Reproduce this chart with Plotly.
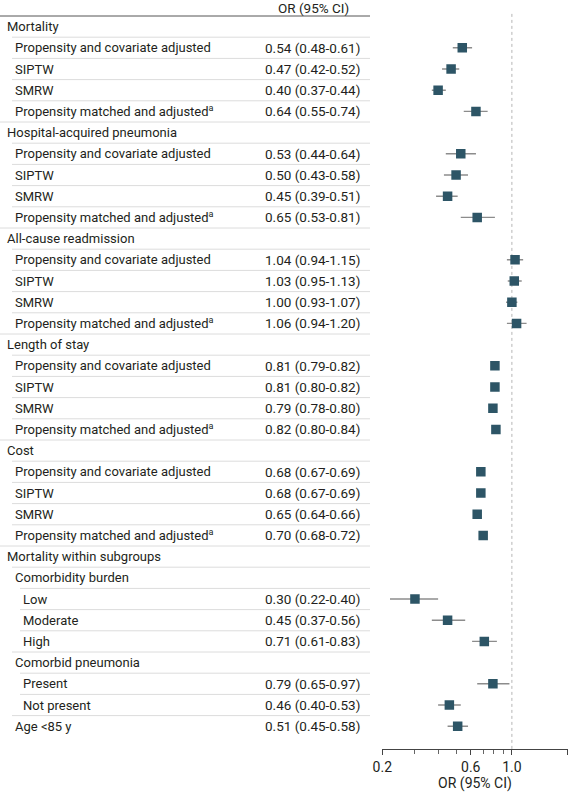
import math
import plotly.graph_objects as go

# ---------------- data ----------------
PMA = "Propensity matched and adjusted<sup>a</sup>"
row_labels = [
    "Mortality",
    "Propensity and covariate adjusted", "SIPTW", "SMRW", PMA,
    "Hospital-acquired pneumonia",
    "Propensity and covariate adjusted", "SIPTW", "SMRW", PMA,
    "All-cause readmission",
    "Propensity and covariate adjusted", "SIPTW", "SMRW", PMA,
    "Length of stay",
    "Propensity and covariate adjusted", "SIPTW", "SMRW", PMA,
    "Cost",
    "Propensity and covariate adjusted", "SIPTW", "SMRW", PMA,
    "Mortality within subgroups",
    "Comorbidity burden",
    "Low", "Moderate", "High",
    "Comorbid pneumonia",
    "Present", "Not present",
    "Age <85 y",
]
row_levels = [0, 1, 1, 1, 1,
              0, 1, 1, 1, 1,
              0, 1, 1, 1, 1,
              0, 1, 1, 1, 1,
              0, 1, 1, 1, 1,
              0, 1, 2, 2, 2, 1, 2, 2, 1]
or_vals = [None, 0.54, 0.47, 0.40, 0.64,
           None, 0.53, 0.50, 0.45, 0.65,
           None, 1.04, 1.03, 1.00, 1.06,
           None, 0.81, 0.81, 0.79, 0.82,
           None, 0.68, 0.68, 0.65, 0.70,
           None, None, 0.30, 0.45, 0.71, None, 0.79, 0.46, 0.51]
ci_low = [None, 0.48, 0.42, 0.37, 0.55,
          None, 0.44, 0.43, 0.39, 0.53,
          None, 0.94, 0.95, 0.93, 0.94,
          None, 0.79, 0.80, 0.78, 0.80,
          None, 0.67, 0.67, 0.64, 0.68,
          None, None, 0.22, 0.37, 0.61, None, 0.65, 0.40, 0.45]
ci_high = [None, 0.61, 0.52, 0.44, 0.74,
           None, 0.64, 0.58, 0.51, 0.81,
           None, 1.15, 1.13, 1.07, 1.20,
           None, 0.82, 0.82, 0.80, 0.84,
           None, 0.69, 0.69, 0.66, 0.72,
           None, None, 0.40, 0.56, 0.83, None, 0.97, 0.53, 0.58]
major_ticks = [0.2, 0.6, 1.0, 2.0]
major_tick_text = ["0.2", "0.6", "1.0", "2.0"]
minor_ticks = [0.3, 0.4, 0.5, 0.7, 0.8, 0.9]
header_text = "OR (95% CI)"
axis_title = "OR (95% CI)"

# ---------------- layout constants ----------------
W, H = 576, 793
FONT = "Roboto"
TXT = "#231f20"
MARK = "#2d5566"
n = len(row_labels)
row0_px, pitch = 26.6, 21.2
axis_px = 749
y_top = -row0_px / pitch
y_bot = (axis_px - row0_px) / pitch
indent_px = {0: 5, 1: 13, 2: 21}
line_px = {0: 0, 1: 12, 2: 20}
val_right_px = 362
table_right_px = 370

def px(v):
    return v / W

pts = [i for i in range(n) if or_vals[i] is not None]
fig = go.Figure()
fig.add_trace(go.Scatter(
    x=[or_vals[i] for i in pts],
    y=pts,
    mode="markers",
    marker=dict(symbol="square", size=9.5, color=MARK),
    error_x=dict(type="data", symmetric=False,
                 array=[ci_high[i] - or_vals[i] for i in pts],
                 arrayminus=[or_vals[i] - ci_low[i] for i in pts],
                 color="#8c8c8c", thickness=1.4, width=0),
    hoverinfo="skip", showlegend=False,
))

annotations = []
shapes = []
annotations.append(dict(x=px(313), y=-0.877, xref="paper", yref="y", text=header_text,
                        showarrow=False, xanchor="center", yanchor="middle",
                        font=dict(family=FONT, size=13.5, color=TXT)))
shapes.append(dict(type="line", xref="paper", yref="y", x0=0, x1=px(table_right_px),
                   y0=-0.5, y1=-0.5, line=dict(color="#555555", width=1)))
for i in range(n):
    lv = row_levels[i]
    annotations.append(dict(x=px(indent_px[lv]), y=i, xref="paper", yref="y",
                            text=row_labels[i], showarrow=False, xanchor="left",
                            yanchor="middle", font=dict(family=FONT, size=13, color=TXT)))
    if or_vals[i] is not None:
        annotations.append(dict(x=px(val_right_px), y=i, xref="paper", yref="y",
                                text="%.2f (%.2f-%.2f)" % (or_vals[i], ci_low[i], ci_high[i]),
                                showarrow=False, xanchor="right", yanchor="middle",
                                font=dict(family=FONT, size=13.5, color=TXT)))
    if i > 0:
        shapes.append(dict(type="line", xref="paper", yref="y", x0=px(line_px[lv]),
                           x1=px(table_right_px), y0=i - 0.5, y1=i - 0.5,
                           line=dict(color="#dcdcdc", width=1)))
shapes.append(dict(type="line", xref="x", yref="y", x0=1, x1=1, y0=-0.6, y1=y_bot,
                   line=dict(color="#b5b5b5", width=1, dash="dot"), layer="below"))

fig.update_layout(
    width=W, height=H,
    margin=dict(l=0, r=0, t=0, b=0, autoexpand=False),
    paper_bgcolor="white", plot_bgcolor="white",
    font=dict(family=FONT, size=13, color=TXT),
    annotations=annotations, shapes=shapes,
    xaxis=dict(type="log", range=[math.log10(0.2), math.log10(2.0)],
               domain=[382.3 / W, 567.7 / W],
               tickmode="array", tickvals=major_ticks, ticktext=major_tick_text,
               ticks="outside", ticklen=5, tickcolor="#444", tickwidth=1,
               minor=dict(tickvals=minor_ticks, ticks="outside", ticklen=4,
                          tickcolor="#666", tickwidth=1, showgrid=False),
               showline=True, linecolor="#444", linewidth=1,
               showgrid=False, zeroline=False, automargin=False,
               tickfont=dict(family=FONT, size=14, color=TXT),
               title=dict(text=axis_title, standoff=2,
                          font=dict(family=FONT, size=14, color=TXT)),
               fixedrange=True),
    yaxis=dict(range=[y_bot, y_top], domain=[(H - axis_px) / H, 1],
               visible=False, fixedrange=True, automargin=False),
)

fig.write_html("out.html", config={"displayModeBar": False},
               post_script="document.body.style.margin='0';document.body.style.overflow='hidden';")
